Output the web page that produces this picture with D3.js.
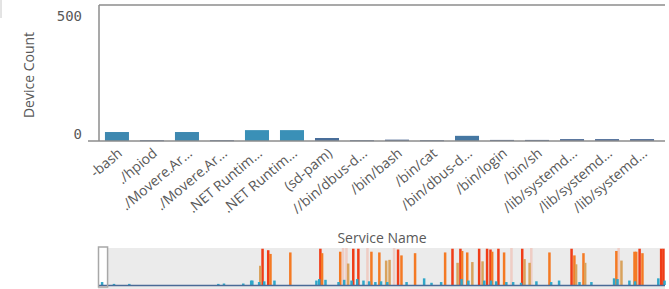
<!DOCTYPE html>
<html>
<head>
<meta charset="utf-8">
<script src="https://cdn.jsdelivr.net/npm/d3@7"></script>
<style>
  body { margin: 0; background: #fff; }
  svg { display: block; }
</style>
</head>
<body>
<div id="chart"></div>
<script>
// visible categories in the main chart
const services = ["-bash", "./hpiod", "./Movere.Ar\u2026", "./Movere.Ar\u2026", ".NET Runtim\u2026", ".NET Runtim\u2026",
  "(sd-pam)", "//bin/dbus-d\u2026", "/bin/bash", "/bin/cat", "/bin/dbus-d\u2026", "/bin/login", "/bin/sh",
  "/lib/systemd\u2026", "/lib/systemd\u2026", "/lib/systemd\u2026"];
const deviceCounts = [33, 3, 33, 3, 40, 40, 11, 3, 5, 3, 19, 4, 4, 7, 7, 7];
const yTicks = [0, 500];

// mini chart (scroll overview), sparse: [category index, device count]
const miniTotal = 1000;
const miniBars = [
  [5, 40], [26, 15], [53, 15], [210, 15], [220, 20], [254, 20], [268, 60], [270, 60],
  [282, 40], [291, 50], [309, 60], [383, 60], [388, 80], [399, 70], [422, 40], [432, 70],
  [445, 60], [455, 80], [466, 60], [476, 50], [487, 40], [497, 50], [508, 40], [542, 40],
  [573, 90], [586, 30], [603, 40], [639, 80], [651, 60], [679, 60], [691, 60], [700, 50],
  [718, 40], [730, 40], [744, 30], [771, 50], [797, 40], [811, 60], [847, 40], [868, 40],
  [908, 90], [914, 80], [935, 60], [945, 50], [986, 90], [997, 60],
  [284, 260], [288, 490], [298, 470], [302, 420], [337, 440], [390, 490], [393, 430],
  [425, 450], [439, 290], [448, 490], [457, 490], [480, 450], [494, 440], [506, 330],
  [512, 340], [527, 480], [533, 400], [557, 430], [610, 440], [623, 490], [632, 300],
  [637, 490], [640, 460], [649, 440], [658, 310], [670, 490], [676, 320], [684, 490],
  [690, 480], [693, 450], [704, 490], [714, 440], [746, 490], [750, 350], [759, 300],
  [794, 440], [833, 490], [838, 400], [841, 280], [854, 430], [857, 300], [912, 460],
  [921, 330], [944, 450], [947, 450], [953, 490], [958, 430], [991, 490], [995, 490]
];
const miniFaint = [430, 436, 473, 520, 727, 762, 916];

const W = 669, H = 289;
const svg = d3.select("#chart").append("svg").attr("width", W).attr("height", H);

const x = d3.scaleBand().domain(d3.range(services.length)).range([99, 660])
  .paddingInner(0.314).paddingOuter(0.17);
const y = d3.scaleLinear().domain([0, 500]).range([141, 5]);
const color = d3.scaleLinear().domain([5, 40]).range(["#4c6794", "#3a90b7"]).clamp(true);

// faint page edge on the far left
svg.append("line").attr("x1", 1).attr("x2", 1).attr("y1", 0).attr("y2", 18)
  .attr("stroke", "#c8c8c8").attr("stroke-width", 1);

// bars
svg.append("g").selectAll("rect")
  .data(deviceCounts)
  .join("rect")
  .attr("x", (d, i) => x(i))
  .attr("y", d => y(d))
  .attr("width", x.bandwidth())
  .attr("height", d => Math.max(1, y(0) - y(d)))
  .attr("fill", d => color(d));

// frame lines
svg.append("line").attr("x1", 99).attr("x2", 665).attr("y1", y(500)).attr("y2", y(500))
  .attr("stroke", "#8c8c8c").attr("stroke-width", 1.5);
svg.append("line").attr("x1", 99).attr("x2", 99).attr("y1", y(500)).attr("y2", y(0))
  .attr("stroke", "#8c8c8c").attr("stroke-width", 1.5);
svg.append("line").attr("x1", 88).attr("x2", 665).attr("y1", y(0)).attr("y2", y(0))
  .attr("stroke", "#8c8c8c").attr("stroke-width", 1.5);

// y tick labels
svg.append("g").selectAll("text")
  .data(yTicks)
  .join("text")
  .attr("x", 82)
  .attr("y", d => d === 0 ? y(d) - 7 : y(d) + 11)
  .attr("dy", "0.35em")
  .attr("text-anchor", "end")
  .attr("font-family", "DejaVu Sans Mono")
  .attr("font-size", 14)
  .attr("fill", "#595959")
  .text(d => d);

svg.append("text")
  .attr("transform", "translate(34,75) rotate(-90)")
  .attr("text-anchor", "middle")
  .attr("font-family", "Open Sans")
  .attr("font-size", 14)
  .attr("fill", "#595959")
  .text("Device Count");

// x labels
svg.append("g").selectAll("text")
  .data(services)
  .join("text")
  .attr("transform", (d, i) => `translate(${x(i) + x.bandwidth() / 2 + 3},151) rotate(-40)`)
  .attr("text-anchor", "end")
  .attr("dy", "0.35em")
  .attr("font-family", "Open Sans")
  .attr("font-size", 14)
  .attr("fill", "#595959")
  .text(d => d);

svg.append("text")
  .attr("x", 382).attr("y", 243)
  .attr("text-anchor", "middle")
  .attr("font-family", "Open Sans")
  .attr("font-size", 14)
  .attr("fill", "#595959")
  .text("Service Name");

// mini chart
const mx = d3.scaleLinear().domain([0, miniTotal]).range([98, 665]);
const my = d3.scaleLinear().domain([0, 500]).range([285, 248]);
const miniColor = d3.scaleThreshold().domain([150, 380, 470])
  .range(["#2fa7c9", "#d9a25c", "#f47a24", "#f03c17"]);

svg.append("rect").attr("x", mx(0)).attr("y", 248).attr("width", mx(miniTotal) - mx(0)).attr("height", 41)
  .attr("fill", "#ebebeb");
svg.append("rect").attr("x", mx(0)).attr("y", 247).attr("width", mx(services.length) - mx(0)).attr("height", 40)
  .attr("fill", "#fff");

svg.append("g").selectAll("rect")
  .data(miniFaint)
  .join("rect")
  .attr("x", d => mx(d))
  .attr("y", my(500))
  .attr("width", 2.5)
  .attr("height", my(0) - my(500))
  .attr("fill", "#f2b9ab")
  .attr("opacity", 0.6);

svg.append("g").selectAll("rect")
  .data(miniBars.slice().sort((a, b) => b[1] - a[1]))
  .join("rect")
  .attr("x", d => mx(d[0]))
  .attr("y", d => my(d[1]))
  .attr("width", 2.5)
  .attr("height", d => my(0) - my(d[1]))
  .attr("fill", d => miniColor(d[1]));

svg.append("line").attr("x1", mx(0)).attr("x2", mx(miniTotal)).attr("y1", 285.5).attr("y2", 285.5)
  .attr("stroke", "#4a6a96").attr("stroke-width", 1.5);

svg.append("rect").attr("x", mx(0) + 0.5).attr("y", 247).attr("width", mx(services.length) - mx(0)).attr("height", 40)
  .attr("fill", "none").attr("stroke", "#a8a8a8").attr("stroke-width", 1.5);
</script>
</body>
</html>
